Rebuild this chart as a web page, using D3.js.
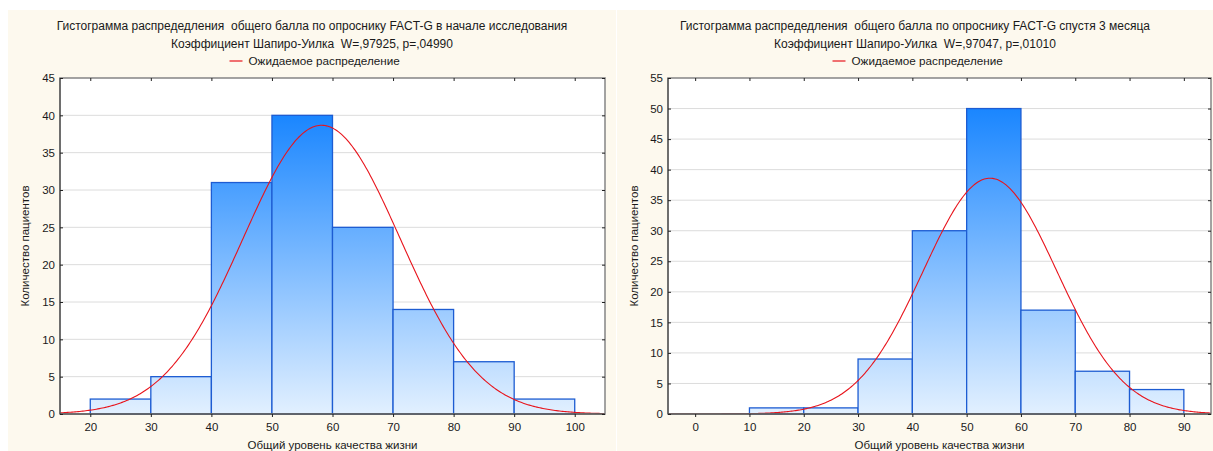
<!DOCTYPE html>
<html>
<head>
<meta charset="utf-8">
<script src="https://cdn.jsdelivr.net/npm/d3@7/dist/d3.min.js"></script>
<style>
  html, body { margin: 0; padding: 0; background: #ffffff; }
  svg { display: block; }
  text { font-family: "Liberation Sans", Arial, sans-serif; fill: #1a1a1a; white-space: pre; }
</style>
</head>
<body>
<svg id="chart" width="1213" height="451"></svg>
<script>
// Bin edges (lower bounds, width 10) and patient counts for each histogram
const binsStart = [20, 30, 40, 50, 60, 70, 80, 90];
const countsStart = [2, 5, 31, 40, 25, 14, 7, 2];
const binsLater = [10, 20, 30, 40, 50, 60, 70, 80];
const countsLater = [1, 1, 9, 30, 50, 17, 7, 4];
const binWidth = 10;

// Fitted normal parameters for the expected-distribution curve
const fitStart = { mean: 58.2, sd: 13.0 };
const fitLater = { mean: 54.3, sd: 12.3 };

// Axis ticks
const xTicksStart = [20, 30, 40, 50, 60, 70, 80, 90, 100];
const yTicksStart = [0, 5, 10, 15, 20, 25, 30, 35, 40, 45];
const xTicksLater = [0, 10, 20, 30, 40, 50, 60, 70, 80, 90];
const yTicksLater = [0, 5, 10, 15, 20, 25, 30, 35, 40, 45, 50, 55];

const titlesStart = [
  "Гистограмма распредедления  общего балла по опроснику FACT-G в начале исследования",
  "Коэффициент Шапиро-Уилка  W=,97925, p=,04990"
];
const titlesLater = [
  "Гистограмма распредедления  общего балла по опроснику FACT-G спустя 3 месяца",
  "Коэффициент Шапиро-Уилка  W=,97047, p=,01010"
];
const legendLabel = "Ожидаемое распределение";
const xLabel = "Общий уровень качества жизни";
const yLabel = "Количество пациентов";

const svg = d3.select("#chart");
const defs = svg.append("defs");

function panel(cfg) {
  const g = svg.append("g");
  // panel background
  g.append("rect")
    .attr("x", cfg.bx).attr("y", 10)
    .attr("width", cfg.bw).attr("height", 441)
    .attr("fill", "#fdf9ee");

  const x = d3.scaleLinear().domain(cfg.xDomain).range([cfg.left, cfg.right]);
  const y = d3.scaleLinear().domain(cfg.yDomain).range([414, 78]);

  const cx = cfg.bx + cfg.bw / 2;
  // titles
  g.append("text").attr("x", cx).attr("y", 30).attr("text-anchor", "middle")
    .style("font-size", "12px").text(cfg.titles[0]);
  g.append("text").attr("x", cx).attr("y", 48).attr("text-anchor", "middle")
    .style("font-size", "12px").text(cfg.titles[1]);

  // legend
  const legendW = 152 + 19;
  const lx = cx - legendW / 2 + 3;
  g.append("line").attr("x1", lx).attr("x2", lx + 13)
    .attr("y1", 61).attr("y2", 61)
    .attr("stroke", "#e8141c").attr("stroke-width", 1.2);
  g.append("text").attr("x", lx + 19).attr("y", 65)
    .style("font-size", "11.7px").text(legendLabel);

  // plot area
  g.append("rect").attr("x", cfg.left).attr("y", 78)
    .attr("width", cfg.right - cfg.left).attr("height", 336)
    .attr("fill", "#ffffff");

  // horizontal grid
  g.append("g").selectAll("line").data(cfg.yTicks.slice(1, -1)).join("line")
    .attr("x1", cfg.left).attr("x2", cfg.right)
    .attr("y1", d => y(d)).attr("y2", d => y(d))
    .attr("stroke", "#dcdcdc").attr("stroke-width", 1);

  // bar gradient, spanning from zero to the tallest bar
  const gid = "grad" + cfg.id;
  const grad = defs.append("linearGradient").attr("id", gid)
    .attr("gradientUnits", "userSpaceOnUse")
    .attr("x1", 0).attr("x2", 0)
    .attr("y1", y(0)).attr("y2", y(d3.max(cfg.counts)));
  grad.append("stop").attr("offset", "0%").attr("stop-color", "#e2f0ff");
  grad.append("stop").attr("offset", "100%").attr("stop-color", "#1a86ff");

  const data = cfg.bins.map((b, i) => ({ x0: b, x1: b + binWidth, n: cfg.counts[i] }));
  g.append("g").selectAll("rect").data(data).join("rect")
    .attr("x", d => x(d.x0)).attr("width", d => x(d.x1) - x(d.x0))
    .attr("y", d => y(d.n)).attr("height", d => y(0) - y(d.n))
    .attr("fill", `url(#${gid})`)
    .attr("stroke", "#1d5cd2").attr("stroke-width", 1.3);

  // expected normal curve scaled to counts per bin
  const total = d3.sum(cfg.counts);
  const { mean, sd } = cfg.fit;
  const expected = v => total * binWidth *
    Math.exp(-0.5 * ((v - mean) / sd) ** 2) / (sd * Math.sqrt(2 * Math.PI));
  const pts = d3.range(cfg.xDomain[0], cfg.xDomain[1] + 0.01, 0.25);
  const clipId = "clip" + cfg.id;
  defs.append("clipPath").attr("id", clipId).append("rect")
    .attr("x", cfg.left).attr("y", 78)
    .attr("width", cfg.right - cfg.left).attr("height", 336);
  g.append("path").datum(pts)
    .attr("clip-path", `url(#${clipId})`)
    .attr("fill", "none").attr("stroke", "#e8141c").attr("stroke-width", 1.1)
    .attr("d", d3.line().x(d => x(d)).y(d => y(expected(d))));

  // frame
  g.append("rect").attr("x", cfg.left).attr("y", 78)
    .attr("width", cfg.right - cfg.left).attr("height", 336)
    .attr("fill", "none").attr("stroke", "#8c8c8c").attr("stroke-width", 1.6);
  g.append("line").attr("x1", cfg.left).attr("x2", cfg.left)
    .attr("y1", 78).attr("y2", 414).attr("stroke", "#3a3a3a").attr("stroke-width", 1);
  g.append("line").attr("x1", cfg.left).attr("x2", cfg.right)
    .attr("y1", 414).attr("y2", 414).attr("stroke", "#3a3a3a").attr("stroke-width", 1);

  // axes
  const bottom = g.append("g").attr("transform", "translate(0,414)")
    .call(d3.axisBottom(x).tickValues(cfg.xTicks).tickSize(3).tickPadding(6).tickFormat(d3.format("d")));
  const top = g.append("g").attr("transform", "translate(0,78)")
    .call(d3.axisBottom(x).tickValues(cfg.xTicks).tickSize(3).tickFormat(""));
  const leftAx = g.append("g").attr("transform", `translate(${cfg.left},0)`)
    .call(d3.axisLeft(y).tickValues(cfg.yTicks).tickSize(0).tickPadding(5).tickFormat(d3.format("d")));
  const leftIn = g.append("g").attr("transform", `translate(${cfg.left},0)`)
    .call(d3.axisRight(y).tickValues(cfg.yTicks).tickSize(3).tickFormat(""));
  const rightIn = g.append("g").attr("transform", `translate(${cfg.right},0)`)
    .call(d3.axisLeft(y).tickValues(cfg.yTicks).tickSize(3).tickFormat(""));
  [bottom, top, leftAx, leftIn, rightIn].forEach(a => {
    a.select(".domain").remove();
    a.selectAll(".tick line").attr("stroke", "#222");
    a.selectAll("text").style("font-size", "11.5px").attr("fill", "#1a1a1a")
      .style("font-family", "'Liberation Sans', Arial, sans-serif");
  });
  bottom.selectAll(".tick line").attr("y2", 3);

  // axis titles
  g.append("text").attr("x", (cfg.left + cfg.right) / 2).attr("y", 449)
    .attr("text-anchor", "middle").style("font-size", "11.5px").text(xLabel);
  g.append("text")
    .attr("transform", `translate(${cfg.bx + 21},246) rotate(-90)`)
    .attr("text-anchor", "middle").style("font-size", "11.5px").text(yLabel);
}

panel({
  id: "A", bx: 8, bw: 608, left: 60, right: 605,
  xDomain: [15, 105], yDomain: [0, 45],
  xTicks: xTicksStart, yTicks: yTicksStart,
  bins: binsStart, counts: countsStart, fit: fitStart, titles: titlesStart
});
panel({
  id: "B", bx: 617, bw: 596, left: 668, right: 1211,
  xDomain: [-5, 95], yDomain: [0, 55],
  xTicks: xTicksLater, yTicks: yTicksLater,
  bins: binsLater, counts: countsLater, fit: fitLater, titles: titlesLater
});
</script>
</body>
</html>
